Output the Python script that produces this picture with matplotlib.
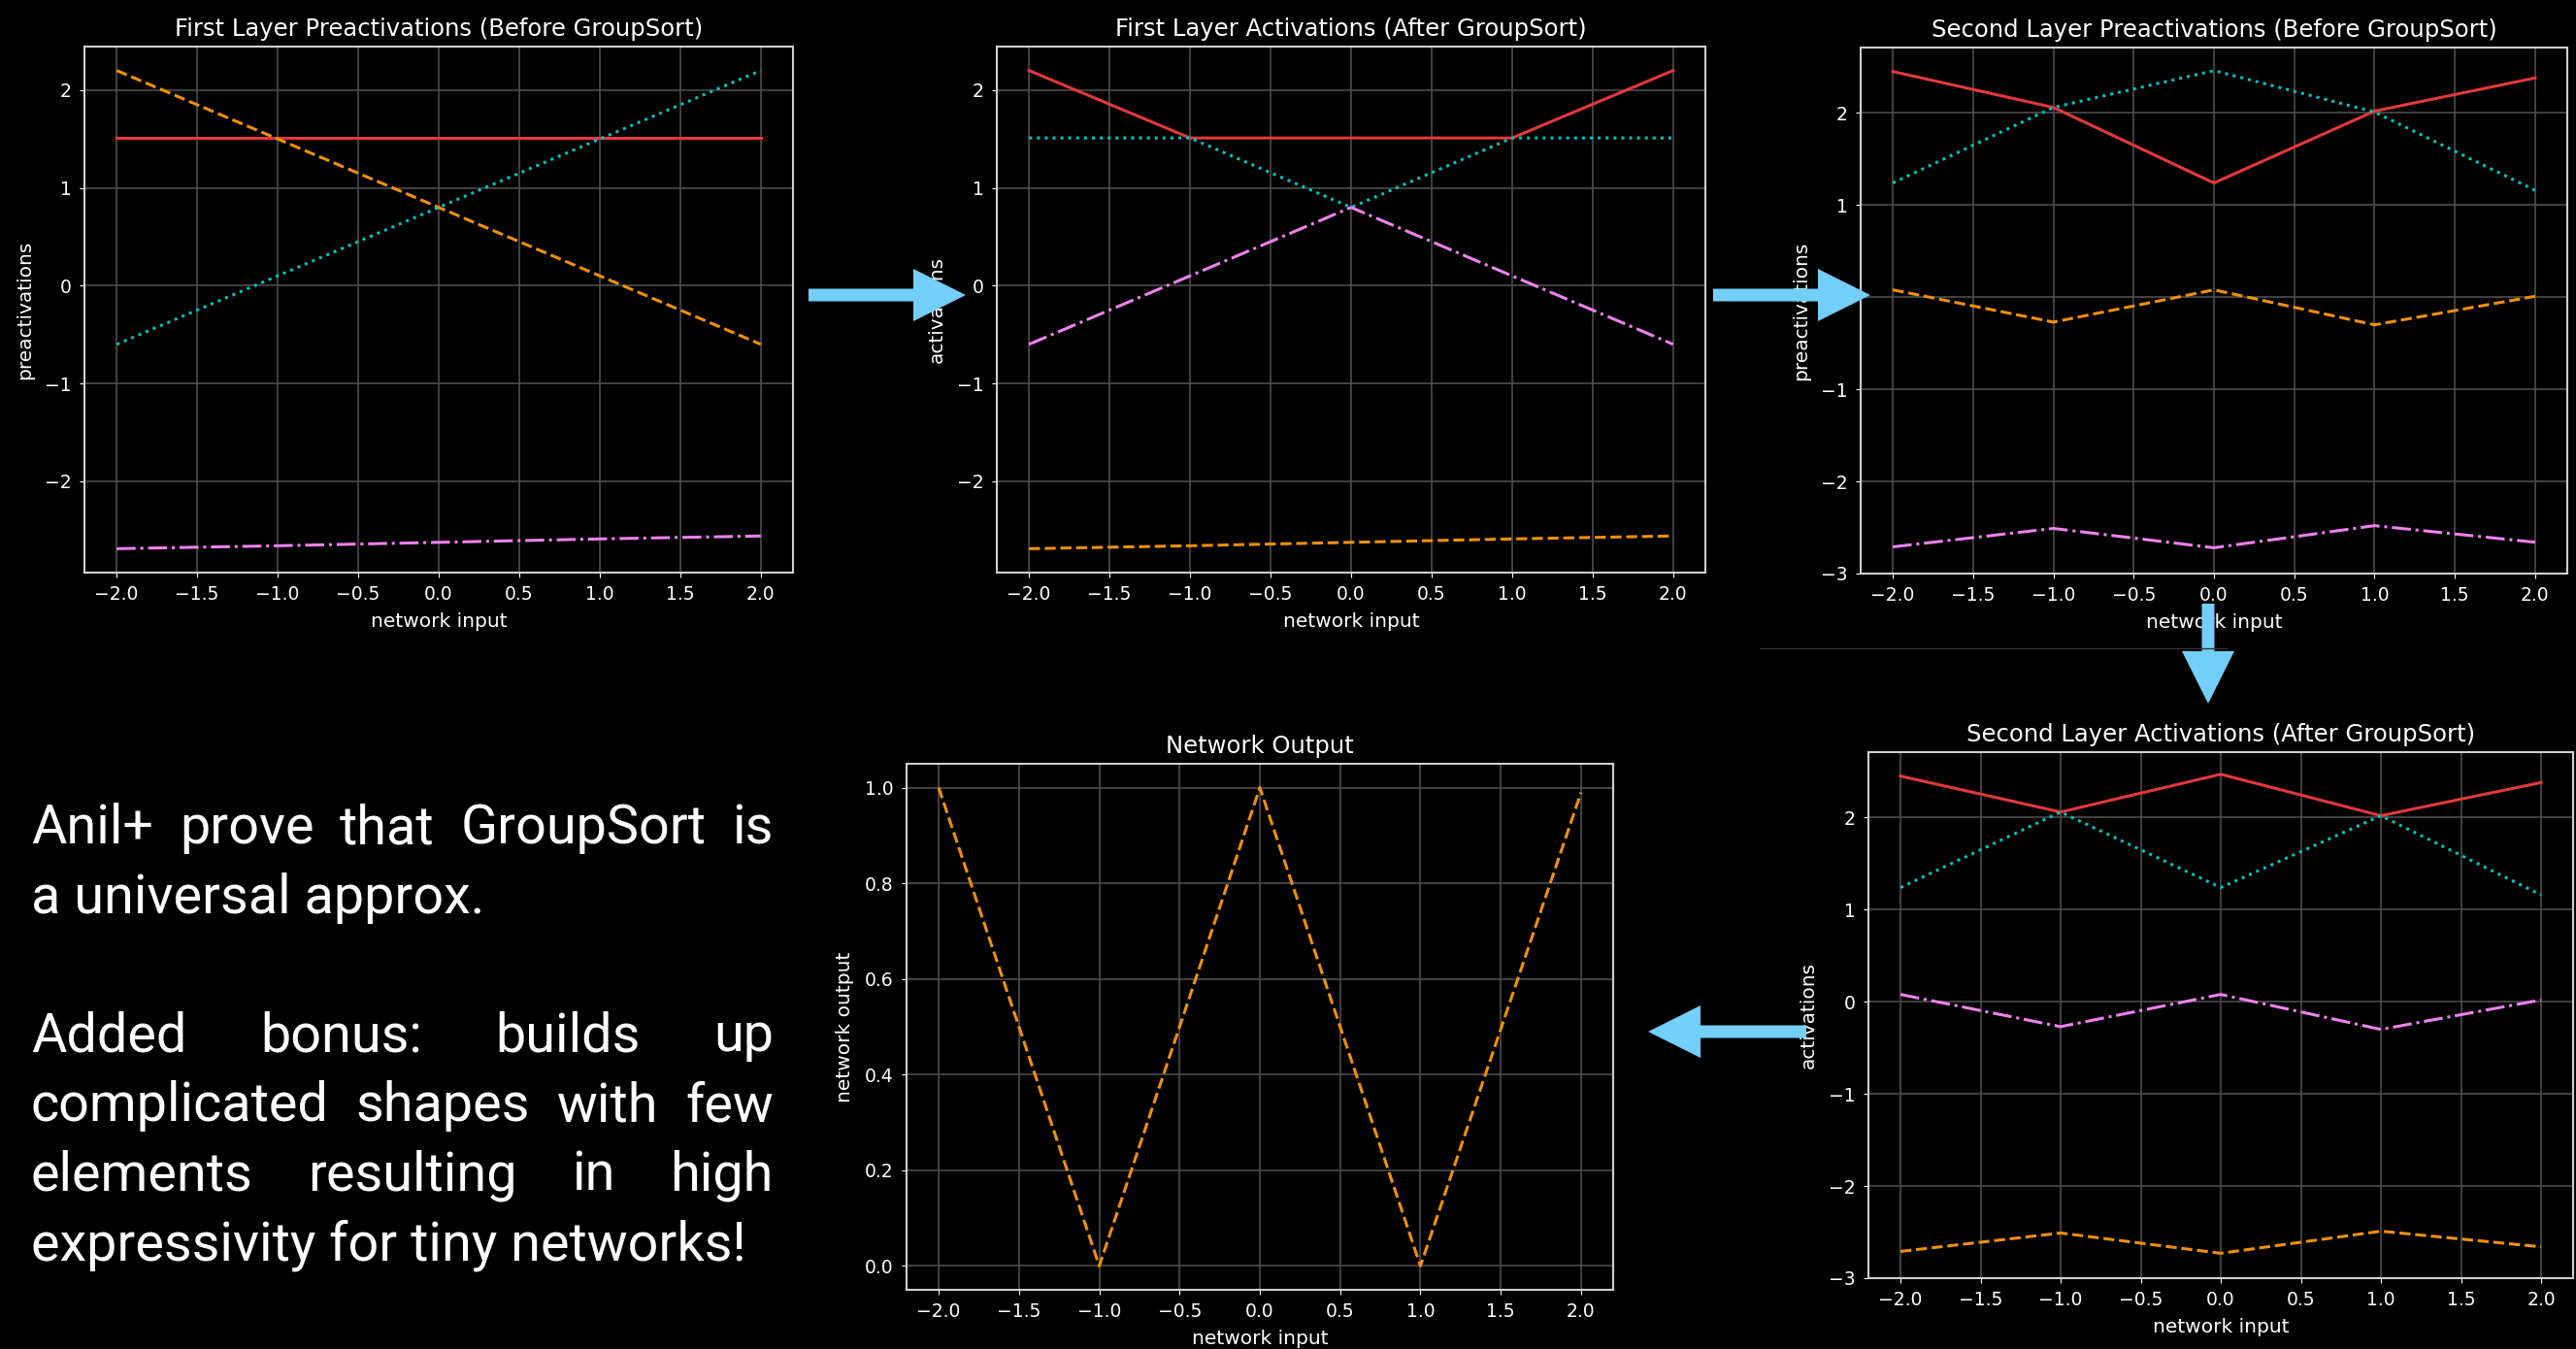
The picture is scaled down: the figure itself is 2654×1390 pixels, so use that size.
import numpy as np
import matplotlib
matplotlib.use("Agg")
import matplotlib.pyplot as plt
from matplotlib.patches import FancyArrow

# data (values at the breakpoints x = -2..2)
x_in = [-2, -1, 0, 1, 2]

l1_pre_red = [1.51, 1.51, 1.51, 1.51, 1.51]
l1_pre_orange = [2.2, 1.5, 0.8, 0.1, -0.6]
l1_pre_cyan = [-0.6, 0.1, 0.8, 1.5, 2.2]
l1_pre_violet = [-2.69, -2.66, -2.625, -2.59, -2.56]

l1_act_red = [2.2, 1.51, 1.51, 1.51, 2.2]
l1_act_cyan = [1.51, 1.51, 0.8, 1.51, 1.51]
l1_act_violet = [-0.6, 0.1, 0.8, 0.1, -0.6]
l1_act_orange = [-2.69, -2.66, -2.625, -2.59, -2.56]

l2_pre_red = [2.45, 2.06, 1.24, 2.02, 2.38]
l2_pre_cyan = [1.24, 2.06, 2.46, 2.01, 1.16]
l2_pre_orange = [0.08, -0.27, 0.08, -0.30, 0.01]
l2_pre_violet = [-2.71, -2.51, -2.72, -2.48, -2.66]

l2_act_red = [2.45, 2.06, 2.47, 2.02, 2.38]
l2_act_cyan = [1.24, 2.06, 1.24, 2.02, 1.16]
l2_act_violet = [0.08, -0.27, 0.08, -0.30, 0.02]
l2_act_orange = [-2.71, -2.51, -2.73, -2.49, -2.66]

net_out = [1.0, 0.0, 1.0, 0.0, 0.99]

slide_lines = ["Anil+ prove that GroupSort is",
               "a universal approx.",
               "",
               "Added bonus: builds up",
               "complicated shapes with few",
               "elements resulting in high",
               "expressivity for tiny networks!"]
slide_justify = [True, False, False, True, True, True, False]

RED = '#e3393c'
ORANGE = '#f0900a'
CYAN = '#00c4c4'
VIOLET = '#ee82ee'
ARROW = '#73cefa'

W, H = 2654, 1390
plt.style.use('dark_background')
fig = plt.figure(figsize=(W / 100, H / 100), dpi=100)


def px_axes(left, right, top, bottom):
    return fig.add_axes([left / W, 1 - bottom / H, (right - left) / W, (bottom - top) / H])


def style(ax, title, ylabel):
    ax.set_title(title, fontsize=17.5, pad=8)
    ax.set_xlabel('network input', fontsize=14.5, labelpad=6)
    ax.set_ylabel(ylabel, fontsize=14.5, labelpad=8)
    ax.tick_params(labelsize=13.5, pad=6)
    ax.grid(True, color='#4d4d4d', lw=1.2)
    ax.set_axisbelow(True)
    for s in ax.spines.values():
        s.set_color('#d0d0d0')
        s.set_linewidth(1.5)


def four(ax, red, orange, cyan, violet):
    ax.plot(x_in, red, color=RED, lw=2.2, ls='-')
    ax.plot(x_in, orange, color=ORANGE, lw=2.2, ls='--')
    ax.plot(x_in, cyan, color=CYAN, lw=2.2, ls=':')
    ax.plot(x_in, violet, color=VIOLET, lw=2.2, ls='-.')


ax1 = px_axes(87, 817, 48, 590)
four(ax1, l1_pre_red, l1_pre_orange, l1_pre_cyan, l1_pre_violet)
style(ax1, 'First Layer Preactivations (Before GroupSort)', 'preactivations')

ax2 = px_axes(1027, 1757, 48, 590)
four(ax2, l1_act_red, l1_act_orange, l1_act_cyan, l1_act_violet)
style(ax2, 'First Layer Activations (After GroupSort)', 'activations')

ax3 = px_axes(1917, 2645, 49, 591)
four(ax3, l2_pre_red, l2_pre_orange, l2_pre_cyan, l2_pre_violet)
ax3.set_ylim(-3.0, 2.71)
style(ax3, 'Second Layer Preactivations (Before GroupSort)', 'preactivations')

ax4 = px_axes(1925, 2651, 775, 1317)
four(ax4, l2_act_red, l2_act_orange, l2_act_cyan, l2_act_violet)
ax4.set_ylim(-3.0, 2.71)
style(ax4, 'Second Layer Activations (After GroupSort)', 'activations')

ax5 = px_axes(934, 1662, 787, 1329)
ax5.plot(x_in, net_out, color=ORANGE, lw=2.2, ls='--')
style(ax5, 'Network Output', 'network output')

# overlay in pixel coords for arrows and slide text
ov = fig.add_axes([0, 0, 1, 1], zorder=10)
ov.set_xlim(0, W)
ov.set_ylim(H, 0)
ov.axis('off')
ov.patch.set_visible(False)

ov.plot([1813, 2294], [668, 668], color='#333333', lw=1)

arrows = [(833, 304, 162, 0), (1765, 304, 162, 0), (2275, 622, 0, 103), (1861, 1063, -163, 0)]
for x0, y0, dx, dy in arrows:
    ov.add_patch(FancyArrow(x0, y0, dx, dy, width=13, head_width=54, head_length=54,
                            length_includes_head=True, color=ARROW, lw=0))

# justified slide text
fig.canvas.draw()
rend = fig.canvas.get_renderer()
left, right = 32, 797
y0, dy = 869, 71.5
fkw = dict(family='Roboto', weight='normal', color='white', va='baseline')

# size the font so the last (ragged) line has the width it has on the slide
probe = ov.text(0, 0, slide_lines[-1], fontsize=40, **fkw)
fs = 40 * 736 / probe.get_window_extent(rend).width
probe.remove()

for i, (line, just) in enumerate(zip(slide_lines, slide_justify)):
    if not line:
        continue
    y = y0 + i * dy
    if not just:
        ov.text(left, y, line, fontsize=fs, **fkw)
        continue
    words = line.split()
    ts = [ov.text(0, y, w, fontsize=fs, **fkw) for w in words]
    widths = [t.get_window_extent(rend).width for t in ts]
    gap = (right - left - sum(widths)) / (len(words) - 1)
    x = left
    for t, w in zip(ts, widths):
        t.set_x(x)
        x += w + gap

fig.savefig('out.png', dpi=100, facecolor='black')
